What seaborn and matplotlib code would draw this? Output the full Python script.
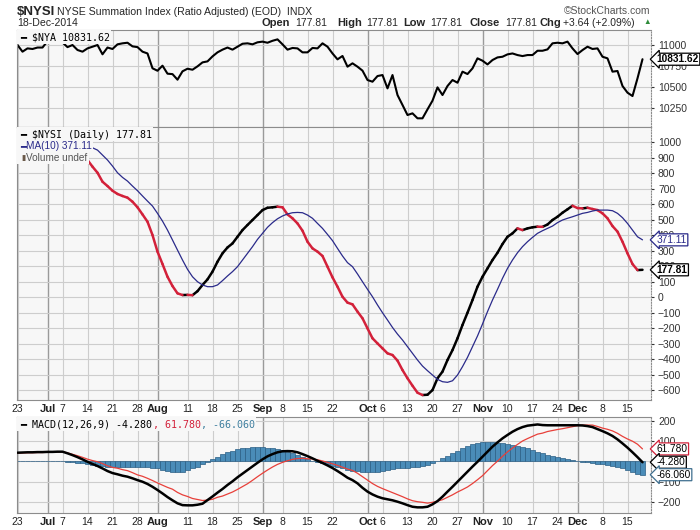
import pandas as pd
import seaborn as sns
import numpy as np
import matplotlib.pyplot as plt
from matplotlib.patches import Rectangle

# trading days on the chart, 23-Jun-2014 .. 18-Dec-2014
holidays = ["2014-07-04", "2014-09-01", "2014-11-27"]
days = pd.bdate_range("2014-06-23", "2014-12-18", freq="C", holidays=holidays)

# $NYA close
nya = [11000, 10921, 10960, 10953, 10970, 10970, 11045, 11100, 11110, 11030,
       10975, 11000, 10941, 10921, 10960, 10980, 11000, 10890, 10970, 10953,
       11008, 11020, 11027, 10984, 10975, 10921, 10900, 10724, 10695, 10755,
       10660, 10655, 10589, 10688, 10719, 10707, 10747, 10794, 10806, 10865,
       10913, 10945, 10970, 10945, 10980, 11015, 11020, 11008, 11032, 11040,
       11027, 11050, 11067, 11008, 10945, 10965, 10960, 10913, 10913, 10965,
       10960, 11020, 10980, 10900, 10830, 10870, 10743, 10783, 10743, 10696,
       10585, 10565, 10632, 10644, 10486, 10644, 10407, 10289, 10170, 10190,
       10131, 10131, 10237, 10340, 10498, 10407, 10514, 10585, 10553, 10684,
       10656, 10723, 10842, 10814, 10770, 10822, 10853, 10861, 10889, 10900,
       10881, 10869, 10881, 10881, 10932, 10932, 10948, 11020, 11027, 11020,
       11040, 10960, 10893, 10940, 10980, 10953, 10960, 10861, 10842, 10684,
       10692, 10514, 10435, 10395, 10605, 10831.62]

# $NYSI daily
nysi = [1000, 1010, 1020, 1025, 1030, 1030, 1025, 1015, 1005, 990,
        975, 960, 945, 925, 886, 843, 804, 746, 718, 688,
        667, 654, 643, 617, 581, 535, 488, 402, 295, 215,
        133, 73, 26, 15, 16, 14, 40, 80, 116, 166,
        230, 284, 322, 348, 391, 434, 467, 499, 531, 563,
        578, 581, 585, 581, 535, 510, 477, 430, 359, 316,
        295, 267, 198, 129, 69, 4, -34, -45, -92, -135,
        -200, -264, -297, -329, -361, -372, -408, -469, -522, -570,
        -615, -630, -628, -598, -522, -479, -404, -340, -264, -178,
        -99, -17, 69, 133, 187, 241, 288, 344, 391, 413,
        445, 434, 445, 452, 456, 455, 470, 499, 520, 546,
        568, 591, 576, 574, 578, 570, 563, 542, 510, 460,
        424, 359, 284, 215, 176, 177.81]

# MA(10) of $NYSI
nysi_ma10 = [1040, 1045, 1050, 1052, 1055, 1057, 1058, 1056, 1050, 1043,
             1035, 1025, 1012, 998, 982, 965, 950, 918, 886, 847,
             804, 774, 750, 718, 688, 654, 621, 589, 542, 492,
             434, 370, 305, 241, 181, 133, 101, 80, 69, 69,
             80, 108, 138, 166, 198, 241, 284, 327, 374, 413,
             452, 482, 507, 525, 538, 546, 548, 546, 531, 510,
             477, 445, 406, 366, 316, 267, 224, 198, 151, 101,
             52, 4, -49, -99, -146, -194, -237, -275, -318, -361,
             -404, -443, -473, -501, -529, -544, -548, -538, -501, -447,
             -387, -318, -249, -172, -92, -17, 52, 123, 187, 241,
             288, 327, 359, 387, 413, 430, 445, 460, 482, 499,
             510, 520, 531, 542, 548, 557, 563, 563, 563, 559,
             542, 514, 477, 434, 391, 371.11]

# MACD(12,26,9)
macd = [43, 44, 45, 45, 46, 46, 47, 47, 48, 48,
        40, 31, 21, 10, -2, -13, -23, -35, -48, -58,
        -64, -71, -76, -84, -93, -101, -112, -126, -142, -159,
        -177, -193, -208, -217, -218, -218, -215, -210, -192, -174,
        -155, -137, -117, -99, -79, -61, -43, -25, -7, 10,
        25, 36, 45, 50, 51, 50, 45, 36, 26, 15,
        3, -8, -20, -33, -48, -64, -81, -93, -109, -131,
        -150, -164, -175, -183, -188, -193, -200, -208, -217, -225,
        -228, -228, -225, -213, -197, -175, -150, -126, -101, -76,
        -51, -26, -2, 23, 48, 73, 94, 114, 131, 147,
        160, 170, 177, 180, 183, 180, 179, 179, 179, 179,
        179, 179, 179, 178, 175, 170, 160, 150, 139, 126,
        109, 89, 68, 45, 21, -4.28]

macd_signal = [41, 42, 43, 43, 44, 44, 45, 46, 47, 48,
               42, 35, 28, 20, 11, 4, -2, -11, -22, -30,
               -34, -41, -46, -56, -67, -74, -84, -95, -107, -118,
               -129, -138, -154, -166, -174, -184, -189, -194, -192, -188,
               -178, -172, -162, -152, -139, -125, -111, -94, -76, -59,
               -43, -28, -15, -5, 3, 10, 14, 15, 13, 12,
               8, 2, -5, -12, -20, -29, -38, -45, -59, -76,
               -93, -110, -124, -135, -145, -155, -165, -175, -186, -195,
               -200, -203, -207, -203, -197, -190, -178, -166, -152, -140,
               -127, -110, -91, -71, -46, -21, 1, 25, 47, 66,
               84, 101, 113, 124, 135, 140, 148, 153, 158, 162,
               167, 172, 177, 180, 180, 180, 173, 165, 159, 151,
               139, 124, 111, 100, 85, 61.78]

macd_hist = [2, 2, 2, 2, 2, 2, 2, 1, 1, 0,
             -2, -4, -7, -10, -13, -17, -21, -24, -26, -28,
             -30, -30, -30, -28, -26, -27, -28, -31, -35, -41,
             -48, -55, -54, -51, -44, -34, -26, -15, -2, 12,
             23, 35, 45, 53, 60, 64, 68, 69, 69, 69,
             68, 64, 60, 55, 48, 40, 31, 21, 13, 3,
             -5, -10, -15, -21, -28, -35, -43, -48, -50, -52,
             -55, -52, -51, -48, -43, -38, -35, -33, -31, -30,
             -28, -25, -18, -10, 0, 15, 28, 40, 51, 64,
             76, 84, 89, 94, 94, 94, 93, 89, 84, 81,
             76, 69, 64, 56, 48, 40, 31, 26, 21, 17,
             12, 7, 2, -2, -5, -10, -13, -15, -20, -25,
             -30, -35, -43, -55, -64, -66.06]

tick_dates = ["2014-06-23", "2014-07-01", "2014-07-07", "2014-07-14", "2014-07-21",
              "2014-07-28", "2014-08-01", "2014-08-11", "2014-08-18", "2014-08-25",
              "2014-09-02", "2014-09-08", "2014-09-15", "2014-09-22", "2014-10-01",
              "2014-10-06", "2014-10-13", "2014-10-20", "2014-10-27", "2014-11-03",
              "2014-11-10", "2014-11-17", "2014-11-24", "2014-12-01", "2014-12-08",
              "2014-12-15"]
tick_text = ["23", "Jul", "7", "14", "21", "28", "Aug", "11", "18", "25", "Sep", "8",
             "15", "22", "Oct", "6", "13", "20", "27", "Nov", "10", "17", "24", "Dec",
             "8", "15"]

nya_ticks = [10250, 10500, 10750, 11000]
nysi_ticks = list(range(-600, 1001, 100))
macd_ticks = [-200, -100, 0, 100, 200]

sns.set_style("white")
plt.rcParams["font.family"] = ["Liberation Sans", "DejaVu Sans"]

FACE = "#f7f7f7"
GRID = "#cdcdcd"
MONTH_GRID = "#9a9a9a"
RED = "#d3213a"
NAVY = "#2a2a8a"
HIST = "#4a8cb8"

fig = plt.figure(figsize=(7, 5.3), dpi=100)
fig.patch.set_facecolor("white")


def box(x0, y0, x1, y1):
    return [x0 / 700, 1 - y1 / 530, (x1 - x0) / 700, (y1 - y0) / 530]


ax1 = fig.add_axes(box(17, 30, 651, 127))
ax2 = fig.add_axes(box(17, 127, 651, 400))
ax3 = fig.add_axes(box(17, 417, 651, 513))

x = np.arange(len(days))
tick_pos = [days.get_loc(pd.Timestamp(d)) for d in tick_dates]

for ax in (ax1, ax2, ax3):
    ax.set_facecolor(FACE)
    ax.set_xlim(-0.1, 126.7)
    for p, t in zip(tick_pos, tick_text):
        month = t.isalpha()
        ax.axvline(p, color=MONTH_GRID if month else GRID, lw=1.0 if month else 0.8, zorder=0.5)
    ax.yaxis.tick_right()
    ax.yaxis.grid(True, color=GRID, lw=0.8, zorder=0.5)
    ax.set_axisbelow(True)
    ax.tick_params(axis="y", length=2, pad=3, labelsize=7.5, colors="#333333")
    ax.tick_params(axis="x", length=0, pad=3, labelsize=7.5, colors="#222222")
    for side in ("left", "top", "bottom"):
        ax.spines[side].set_color("#8c8c8c")
        ax.spines[side].set_linewidth(0.8)
    ax.spines["right"].set_color("#8c8c8c")
    ax.spines["right"].set_linestyle((0, (1, 1.5)))
    ax.spines["right"].set_linewidth(0.8)

for ax in (ax2, ax3):
    ax.set_xticks(tick_pos, tick_text)
    for lab in ax.get_xticklabels():
        if lab.get_text().isalpha():
            lab.set_fontweight("bold")
            lab.set_fontsize(8)
ax1.set_xticks(tick_pos, [""] * len(tick_pos))

# NYA panel
sns.lineplot(x=x, y=nya, color="black", lw=1.5, ax=ax1)
ax1.set_ylim(10028, 11178)
ax1.set_yticks(nya_ticks)

# NYSI panel, coloured by direction of the day
rows = []
for i in range(1, len(nysi)):
    d = "up" if nysi[i] >= nysi[i - 1] else "down"
    rows.append((i, i - 1, nysi[i - 1], d))
    rows.append((i, i, nysi[i], d))
seg = pd.DataFrame(rows, columns=["seg", "x", "y", "dir"])
sns.lineplot(data=seg, x="x", y="y", hue="dir", units="seg", estimator=None, sort=False,
             palette={"up": "black", "down": RED}, lw=1.8, legend=False, ax=ax2,
             solid_capstyle="round")
sns.lineplot(x=x, y=nysi_ma10, color=NAVY, lw=0.9, ax=ax2)
ax2.set_ylim(-662, 1099)
ax2.set_yticks(nysi_ticks)

# MACD panel
ax3.bar(x, macd_hist, width=1.0, color=HIST, edgecolor="#2b5e84", linewidth=0.5, zorder=2)
sns.lineplot(x=x, y=macd_signal, color="#e8403a", lw=0.9, ax=ax3, zorder=3)
sns.lineplot(x=x, y=macd, color="black", lw=1.8, ax=ax3, zorder=4)
ax3.set_ylim(-256, 220)
ax3.set_yticks(macd_ticks)
for ax in (ax1, ax2, ax3):
    ax.set_xlabel("")
    ax.set_ylabel("")

# legends drawn over the lines, the way the source does
MONO = "DejaVu Sans Mono"
CW = 7.2 * 0.602
legend_texts = {ax1: [], ax2: [], ax3: []}


def legend_piece(ax, row, col, text, color, family=MONO):
    t = ax.annotate(text, xy=(0, 1), xycoords="axes fraction",
                    xytext=(2.5 + col * CW, -2 - row * 8.2), textcoords="offset points",
                    va="top", ha="left", fontsize=7.2, color=color, family=family, zorder=9)
    legend_texts[ax].append(t)


legend_piece(ax1, 0, 0, "━ $NYA 10831.62", "black")
legend_piece(ax2, 0, 0, "━ $NYSI (Daily) 177.81", "black")
legend_piece(ax2, 1, 0, "━", NAVY)
legend_piece(ax2, 1, 1, "MA(10) 371.11", NAVY, family="Liberation Sans")
legend_piece(ax2, 2, 0, "▮", "#6b5a4a")
legend_piece(ax2, 2, 1, "Volume undef", "#555555", family="Liberation Sans")
legend_piece(ax3, 0, 0, "━ MACD(12,26,9) -4.280", "black")
legend_piece(ax3, 0, 22, ", 61.780", RED)
legend_piece(ax3, 0, 30, ", -66.060", "#3f7f9f")

# opaque background behind each legend row
renderer = fig.canvas.get_renderer()
for ax, texts in legend_texts.items():
    inv = ax.transAxes.inverted()
    for t in texts:
        bb = t.get_window_extent(renderer)
        (x0, y0), (x1, y1) = inv.transform([(bb.x0, bb.y0 - 1), (bb.x1 + 1, bb.y1 + 3)])
        ax.add_patch(Rectangle((0, y0), x1, min(y1, 1) - y0, transform=ax.transAxes,
                               fc=FACE, ec="none", zorder=8))


def value_tag(ax, val, text, ec, tc="black", bold=False):
    ax.annotate(text, xy=(1, val), xycoords=("axes fraction", "data"),
                xytext=(4, 0), textcoords="offset points", va="center", ha="left",
                fontsize=7.3, color=tc, fontweight="bold" if bold else "normal",
                bbox=dict(boxstyle="larrow,pad=0.1", fc="white", ec=ec, lw=0.9),
                annotation_clip=False, zorder=10)


value_tag(ax1, nya[-1], "10831.62", "black", bold=True)
value_tag(ax2, nysi_ma10[-1], "371.11", NAVY, tc=NAVY)
value_tag(ax2, nysi[-1], "177.81", "black", bold=True)
value_tag(ax3, macd_signal[-1], "61.780", RED)
value_tag(ax3, macd[-1], "-4.280", "black")
value_tag(ax3, macd_hist[-1], "-66.060", "#3f6f8f")


# header
def ftext(px, py, s, **kw):
    fig.text(px / 700, 1 - py / 530, s, va="center", **kw)


ftext(17, 12, "$NYSI", fontsize=9.5, fontweight="bold")
ftext(57, 12, "NYSE Summation Index (Ratio Adjusted) (EOD)  INDX", fontsize=7.6)
ftext(650, 11, "\u00a9StockCharts.com", fontsize=7.5, color="#555555", ha="right")
ftext(17, 23, "18-Dec-2014", fontsize=7.6)
header = [("Open", 262, True), ("177.81", 295, False), ("High", 337, True),
          ("177.81", 366, False), ("Low", 403, True), ("177.81", 430, False),
          ("Close", 470, True), ("177.81", 505, False), ("Chg", 540, True),
          ("+3.64 (+2.09%)", 563, False)]
for s, px, bold in header:
    if bold:
        ftext(px, 23, s, fontsize=8.0, fontweight="bold")
    else:
        ftext(px, 23, s, fontsize=7.5)
ftext(643, 23, "▲", fontsize=5.5, color="#2e8b3a")

fig.savefig("out.png", dpi=100, facecolor=fig.get_facecolor())
